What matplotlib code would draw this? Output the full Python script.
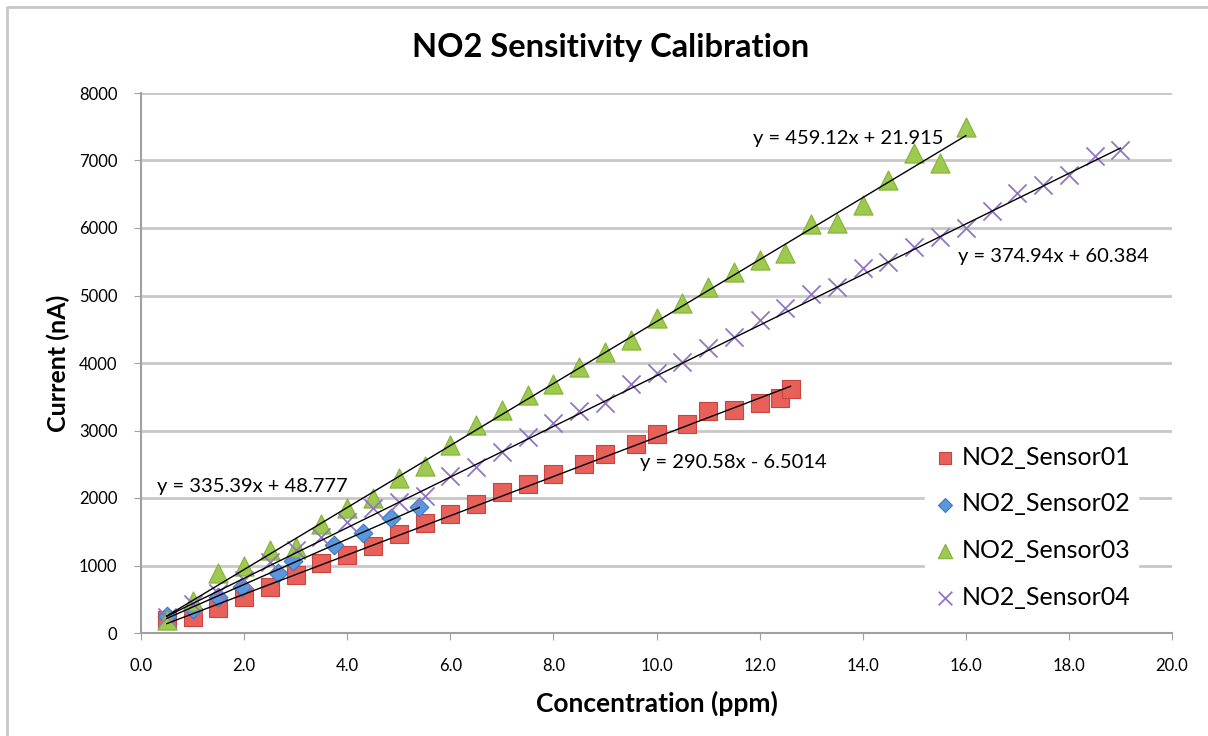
import matplotlib.pyplot as plt
import numpy as np
from matplotlib.lines import Line2D

plt.rcParams["font.family"] = ["Lato", "DejaVu Sans"]

# sensor readings
s1_x = [0.5, 1.0, 1.5, 2.0, 2.5, 3.0, 3.5, 4.0, 4.5, 5.0, 5.5, 6.0, 6.5, 7.0, 7.5, 8.0,
        8.6, 9.0, 9.6, 10.0, 10.6, 11.0, 11.5, 12.0, 12.4, 12.6]
s1_y = [200, 230, 365, 535, 680, 860, 1035, 1150, 1290, 1465, 1630, 1770, 1910, 2085, 2205, 2355,
        2500, 2650, 2800, 2945, 3095, 3290, 3305, 3405, 3480, 3612]

s2_x = [0.5, 1.0, 1.5, 1.95, 2.65, 2.95, 3.75, 4.3, 4.85, 5.4]
s2_y = [250, 350, 530, 680, 895, 1065, 1305, 1480, 1705, 1865]

s3_x = [0.5, 1.0, 1.5, 2.0, 2.5, 3.0, 3.5, 4.0, 4.5, 5.0, 5.5, 6.0, 6.5, 7.0, 7.5, 8.0,
        8.5, 9.0, 9.5, 10.0, 10.5, 11.0, 11.5, 12.0, 12.5, 13.0, 13.5, 14.0, 14.5, 15.0, 15.5, 16.0]
s3_y = [195, 470, 890, 990, 1225, 1275, 1620, 1850, 2000, 2295, 2475, 2785, 3080, 3305, 3525, 3690,
        3940, 4165, 4340, 4665, 4890, 5125, 5345, 5525, 5630, 6060, 6075, 6340, 6710, 7110, 6965, 7495]

s4_x = [0.5, 1.0, 1.5, 2.0, 2.5, 3.0, 3.5, 4.0, 4.5, 5.0, 5.5, 6.0, 6.5, 7.0, 7.5, 8.0, 8.5, 9.0,
        9.5, 10.0, 10.5, 11.0, 11.5, 12.0, 12.5, 13.0, 13.5, 14.0, 14.5, 15.0, 15.5, 16.0, 16.5,
        17.0, 17.5, 18.0, 18.5, 19.0]
s4_y = [240, 430, 600, 785, 1050, 1230, 1420, 1640, 1850, 1935, 2030, 2320, 2460, 2680, 2905, 3110,
        3290, 3410, 3690, 3850, 4015, 4220, 4385, 4637, 4815, 5020, 5126, 5405, 5496, 5720, 5867,
        6005, 6250, 6519, 6637, 6785, 7067, 7156]

# linear trendlines (slope, intercept) as shown on the chart
fits = {
    "s1": (290.58, -6.5014),
    "s2": (335.39, 48.777),
    "s3": (459.12, 21.915),
    "s4": (374.94, 60.384),
}

fig = plt.figure(figsize=(12.08, 7.36), dpi=100)
ax = fig.add_axes([141 / 1208, 1 - 633 / 736, (1172 - 141) / 1208, (633 - 93) / 736])

# chart frame: only the left and top edges show in the crop
fx, fy = 7 / 1208, 1 - 7 / 736
fig.lines.append(Line2D([fx, fx, 1.0], [0.0, fy, fy], transform=fig.transFigure,
                        color="#c8c8c8", linewidth=2))

ax.scatter(s1_x, s1_y, marker="s", s=150, color="#e8605a", edgecolors="#c9443f", linewidths=0.8,
           label="NO2_Sensor01", zorder=3)
ax.scatter(s2_x, s2_y, marker="D", s=90, color="#5a97dc", edgecolors="#3d78bd", linewidths=0.8,
           label="NO2_Sensor02", zorder=3)
ax.scatter(s3_x, s3_y, marker="^", s=190, color="#9cc94e", edgecolors="#84b23a", linewidths=0.8,
           label="NO2_Sensor03", zorder=3)
ax.scatter(s4_x, s4_y, marker="x", s=170, color="#9276c4", linewidths=1.3,
           label="NO2_Sensor04", zorder=3)

for key, xs in [("s1", s1_x), ("s2", s2_x), ("s3", s3_x), ("s4", s4_x)]:
    m, b = fits[key]
    xx = np.array([min(xs), max(xs)])
    ax.plot(xx, m * xx + b, color="black", linewidth=1.0, zorder=4)

lbl_size = 14.5
ax.text(11.87, 7319, "y = 459.12x + 21.915", fontsize=lbl_size, va="center", zorder=5)
ax.text(15.85, 5585, "y = 374.94x + 60.384", fontsize=lbl_size, va="center", zorder=5)
ax.text(9.68, 2533, "y = 290.58x - 6.5014", fontsize=lbl_size, va="center", zorder=5)
ax.text(0.31, 2163, "y = 335.39x + 48.777", fontsize=lbl_size, va="center", zorder=5)

ax.set_xlim(0, 20)
ax.set_ylim(0, 8000)
ax.set_xticks(np.arange(0, 20.1, 2))
ax.set_xticklabels([f"{v:.1f}" for v in np.arange(0, 20.1, 2)])
ax.set_yticks(np.arange(0, 8001, 1000))
ax.tick_params(axis="both", labelsize=12, color="#a0a0a0", length=5)
ax.tick_params(axis="x", pad=13)
ax.tick_params(axis="y", pad=12)
ax.yaxis.grid(True, color="#c8c8c8", linewidth=2)
ax.set_axisbelow(True)
for sp in ["top", "right"]:
    ax.spines[sp].set_visible(False)
for sp in ["left", "bottom"]:
    ax.spines[sp].set_color("#a0a0a0")
    ax.spines[sp].set_linewidth(1.5)

ax.set_xlabel("Concentration (ppm)", fontsize=19, fontweight="bold", labelpad=12)
ax.set_ylabel("Current (nA)", fontsize=18, fontweight="bold", labelpad=6)
fig.text(611 / 1208, 1 - 48 / 736, "NO2 Sensitivity Calibration", fontsize=23.5, fontweight="bold",
         ha="center", va="center")

leg = ax.legend(loc="center left", bbox_to_anchor=(0.748, 0.196), frameon=True, fontsize=18,
                handletextpad=0.2, labelspacing=0.95, borderpad=0.3, markerscale=0.75,
                handlelength=1.0)
leg.get_frame().set_edgecolor("white")
leg.get_frame().set_facecolor("white")
leg.get_frame().set_alpha(1)

fig.savefig("out.png", dpi=100)
